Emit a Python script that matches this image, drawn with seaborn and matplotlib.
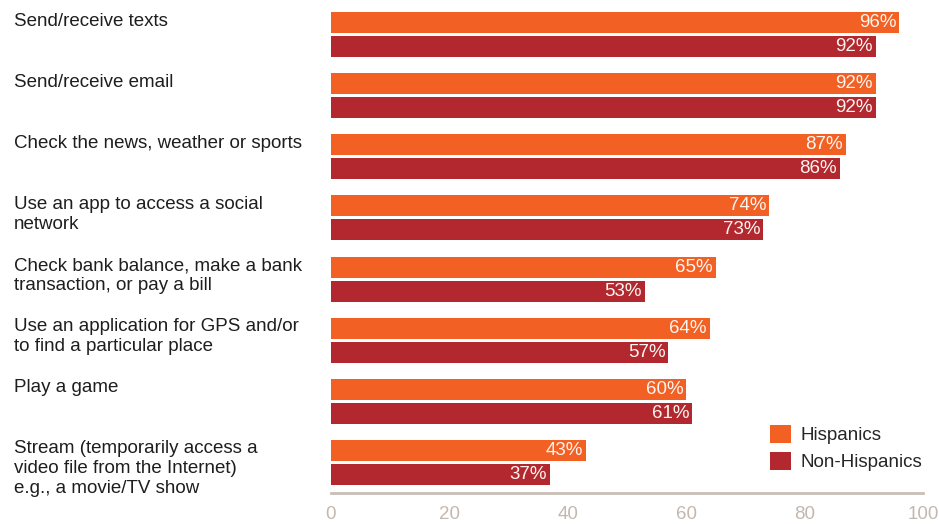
import matplotlib
matplotlib.use("Agg")
import matplotlib.pyplot as plt
import matplotlib.transforms as mtransforms
from matplotlib.patches import Patch
import seaborn as sns
import pandas as pd

categories = [
    "Send/receive texts",
    "Send/receive email",
    "Check the news, weather or sports",
    "Use an app to access a social\nnetwork",
    "Check bank balance, make a bank\ntransaction, or pay a bill",
    "Use an application for GPS and/or\nto find a particular place",
    "Play a game",
    "Stream (temporarily access a\nvideo file from the Internet)\ne.g., a movie/TV show",
]
hispanics = [96, 92, 87, 74, 65, 64, 60, 43]
non_hispanics = [92, 92, 86, 73, 53, 57, 61, 37]
groups = ["Hispanics", "Non-Hispanics"]
colors = ["#F26024", "#B3272F"]

df = pd.DataFrame({
    "activity": categories * 2,
    "group": [groups[0]] * len(categories) + [groups[1]] * len(categories),
    "pct": hispanics + non_hispanics,
})

sns.set_theme(style="white")
plt.rcParams["font.family"] = ["Liberation Sans", "DejaVu Sans"]

fig = plt.figure(figsize=(9.39, 5.24), dpi=100)
ax = fig.add_axes([331 / 939, 1 - 493 / 524, (923 - 331) / 939, (493 - 4) / 524])

sns.barplot(data=df, y="activity", x="pct", hue="group", orient="h",
            palette=colors, width=0.787, gap=0.125, legend=False,
            saturation=1, linewidth=0, ax=ax, order=categories, hue_order=groups)

ax.set_xlim(0, 100)
ax.set_ylim(7.5, -0.5)
ax.set_xticks([0, 20, 40, 60, 80, 100])
ax.tick_params(axis="x", colors="#C4B8AE", labelsize=13.5, length=0, pad=9.5)
ax.set_yticks([])
ax.set_xlabel("")
ax.set_ylabel("")
for side in ["top", "right", "left"]:
    ax.spines[side].set_visible(False)
ax.spines["bottom"].set_color("#C8BFB6")
ax.spines["bottom"].set_linewidth(2)

# value labels inside bar ends
for cont in ax.containers:
    for bar in cont:
        w = bar.get_width()
        ax.text(w - 0.5, bar.get_y() + bar.get_height() / 2, f"{w:.0f}%",
                ha="right", va="center", color="#FAF5F0", fontsize=13.5)

# category labels on the left
trans = mtransforms.blended_transform_factory(fig.transFigure, ax.transData)
for i, cat in enumerate(categories):
    ax.text(14 / 939, i - 0.36, cat, transform=trans, ha="left", va="top",
            fontsize=13.5, color="#1E1E1E", linespacing=1.2)

handles = [Patch(facecolor=c, edgecolor="none", label=g) for c, g in zip(colors, groups)]
ax.legend(handles=handles, loc="upper left", bbox_to_anchor=(770 / 939, 1 - 425 / 524),
          bbox_transform=fig.transFigure, frameon=False, fontsize=13.5,
          handlelength=1.12, handleheight=1.12, handletextpad=0.5,
          labelspacing=0.38, borderpad=0, borderaxespad=0)

fig.savefig("out.png", dpi=100)
